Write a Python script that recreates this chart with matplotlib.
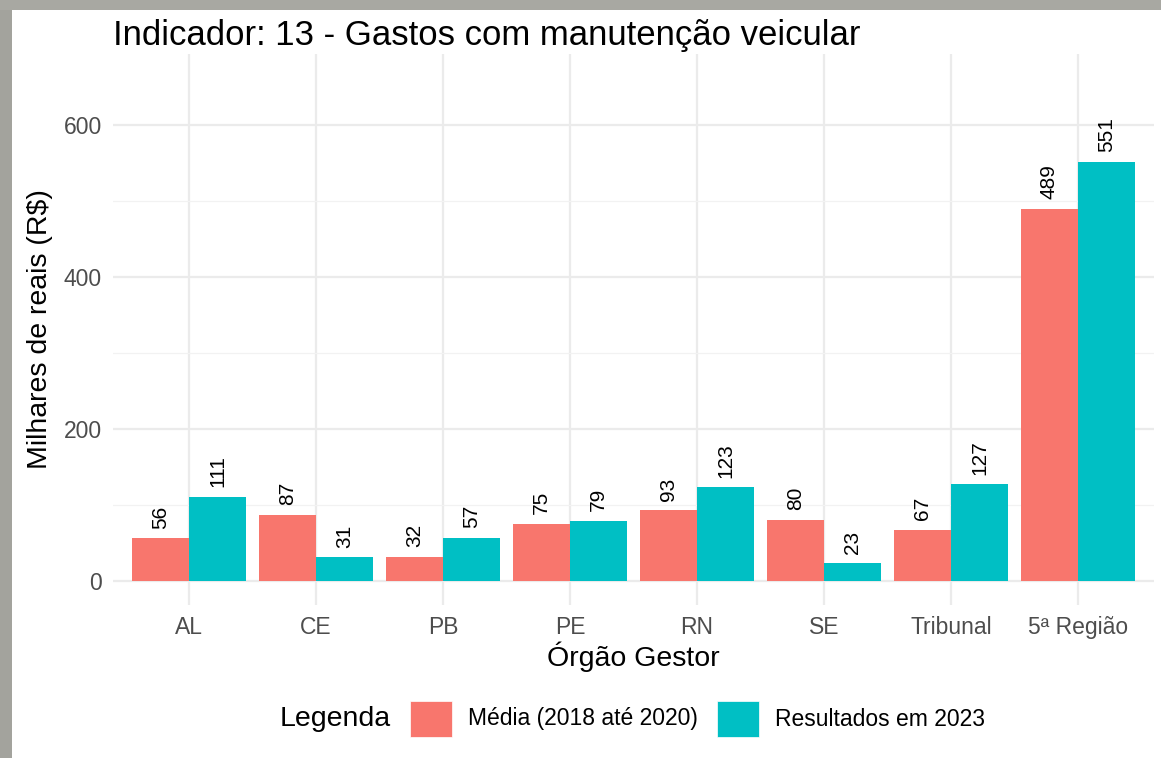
import matplotlib
matplotlib.use("Agg")
from matplotlib import pyplot as plt
from matplotlib.patches import Rectangle
import numpy as np

plt.rcParams['font.family'] = ['Liberation Sans', 'DejaVu Sans']

# data
orgaos = ["AL", "CE", "PB", "PE", "RN", "SE", "Tribunal", "5ª Região"]
media_2018_2020 = [56, 87, 32, 75, 93, 80, 67, 489]
resultados_2023 = [111, 31, 57, 79, 123, 23, 127, 551]
series_names = ["Média (2018 até 2020)", "Resultados em 2023"]
series_colors = ["#F8766D", "#00BFC4"]

W, H = 1161, 758
fig = plt.figure(figsize=(W / 100, H / 100), dpi=100)
fig.patch.set_facecolor("white")

# screenshot frame (gray strip left and top)
fig.patches.append(Rectangle((0, 0), 12 / W, 1, transform=fig.transFigure,
                             facecolor="#a3a39d", edgecolor="none", zorder=0))
fig.patches.append(Rectangle((0, 1 - 10 / H), 1, 10 / H, transform=fig.transFigure,
                             facecolor="#a8a8a2", edgecolor="none", zorder=0))

ax = fig.add_axes([113 / W, (H - 605) / H, (1154 - 113) / W, (605 - 54) / H])
ax.set_facecolor("white")

x = np.arange(len(orgaos))
bw = 0.45
for i, (vals, col) in enumerate(zip([media_2018_2020, resultados_2023], series_colors)):
    pos = x - bw / 2 + i * bw
    bars = ax.bar(pos, vals, width=bw, color=col, zorder=3)
    for b, v in zip(bars, vals):
        ax.annotate(str(v), (b.get_x() + b.get_width() / 2, v),
                    xytext=(0, 7), textcoords="offset points",
                    rotation=90, ha="center", va="bottom", fontsize=15,
                    color="black", zorder=4)

ax.set_xlim(-0.6, len(orgaos) - 1 + 0.6)
ax.set_ylim(-31.6, 693)
ax.set_yticks([0, 200, 400, 600])
ax.set_yticks([100, 300, 500], minor=True)
ax.set_xticks(x)
ax.set_xticklabels(orgaos)
ax.grid(True, which="major", color="#EBEBEB", linewidth=1.6, zorder=0)
ax.grid(True, which="minor", axis="y", color="#F2F2F2", linewidth=0.9, zorder=0)
ax.tick_params(which="both", length=0, labelsize=16.5, labelcolor="#4D4D4D", pad=8)
for s in ax.spines.values():
    s.set_visible(False)

ax.set_xlabel("Órgão Gestor", fontsize=20.5, labelpad=2)
ax.set_ylabel("Milhares de reais (R$)", fontsize=20.5, labelpad=8)

fig.text(113 / W, 1 - 35 / H, "Indicador: 13 - Gastos com manutenção veicular",
         fontsize=25, ha="left", va="center")

# legend at bottom
ly = 1 - 719 / H
fig.text(280 / W, ly, "Legenda", fontsize=20.5, ha="left", va="center")
key_x = [410, 717]
lab_x = [468, 775]
for kx, lx, name, col in zip(key_x, lab_x, series_names, series_colors):
    fig.patches.append(Rectangle((kx / W, ly - 18 / H), 42 / W, 36 / H,
                                 transform=fig.transFigure, facecolor=col,
                                 edgecolor="white", linewidth=0.5))
    fig.text(lx / W, ly, name, fontsize=16.5, ha="left", va="center")

fig.savefig("out.png", dpi=100)
